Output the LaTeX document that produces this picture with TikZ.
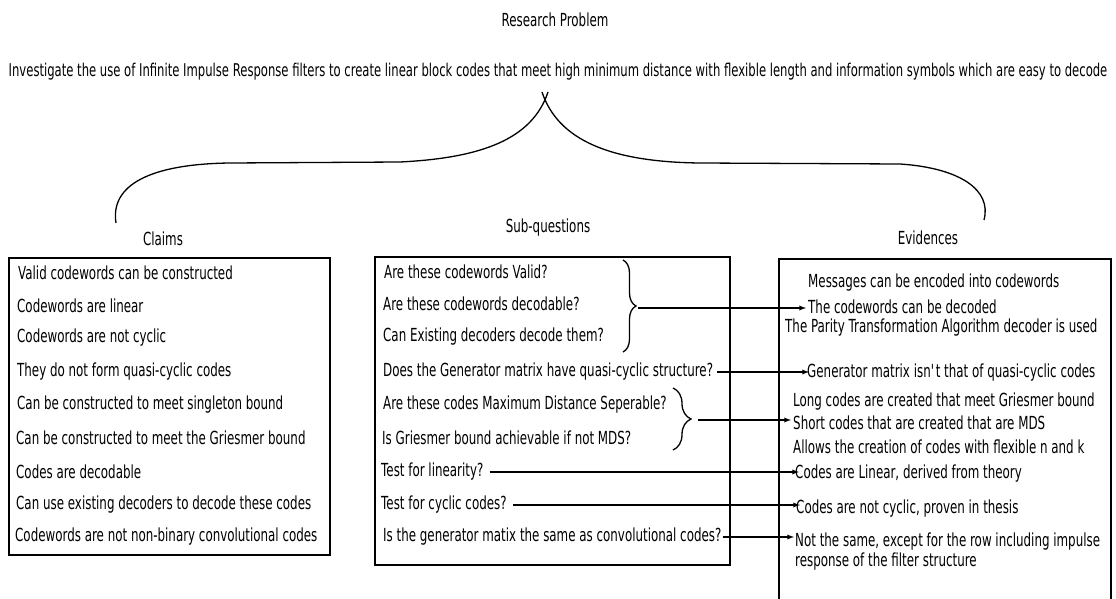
\documentclass[tikz,border=0pt]{standalone}
\usepackage{fontspec}
\setmainfont{DejaVu Sans}[FakeStretch=0.66]
\usetikzlibrary{decorations.pathreplacing}

\tikzset{
  txt/.style={anchor=west, inner sep=0pt, font=\fontsize{18}{20}\selectfont},
  head/.style={inner sep=0pt, font=\fontsize{18}{20}\selectfont},
  frame/.style={draw, line width=1.3pt},
  link/.style={-latex, line width=1.3pt, shorten >=2pt},
  smallbrace/.style={decorate, line width=1.3pt, decoration={brace, amplitude=#1}}
}

\begin{document}
\begin{tikzpicture}[x=1pt, y=-1pt]
	\useasboundingbox (0,0) rectangle (1116,599);

	% problem statement
	\node[head] (title) at (555,20) {Research Problem};
	\node[head, font=\fontsize{17.6}{20}\selectfont] (problem) at (558,72) {Investigate the use of Infinite Impulse Response filters to create linear block codes that meet high minimum distance with flexible length and information symbols which are easy to decode};

	% big brace
	\draw[line width=1.3pt] (116,223) .. controls (110,185) and (150,164) .. (230,163) -- (400,162)
		.. controls (480,158) and (532,140) .. (548,92);
	\draw[line width=1.3pt] (542,92) .. controls (558,140) and (610,162) .. (700,163) -- (900,164)
		.. controls (960,168) and (992,190) .. (984,220);

	% headings
	\node[head] (claims) at (163,239) {Claims};
	\node[head] (subq) at (548,228) {Sub-questions};
	\node[head] (evid) at (928,238) {Evidences};

	% boxes
	\draw[frame] (9,258) rectangle (330,555);
	\draw[frame] (375,257) rectangle (730,565);
	\draw[frame] (779,599) -- (779,259) -- (1111,259) -- (1111,599);

	% claims
	\node[txt] (c1) at (18,273) {Valid codewords can be constructed};
	\node[txt] (c2) at (17,306) {Codewords are linear};
	\node[txt] (c3) at (17,338) {Codewords are not cyclic};
	\node[txt] (c4) at (17,372) {They do not form quasi-cyclic codes};
	\node[txt] (c5) at (17,405) {Can be constructed to meet singleton bound};
	\node[txt] (c6) at (16,438) {Can be constructed to meet the Griesmer bound};
	\node[txt] (c7) at (16,472) {Codes are decodable};
	\node[txt] (c8) at (16,505) {Can use existing decoders to decode these codes};
	\node[txt] (c9) at (15,537) {Codewords are not non-binary convolutional codes};

	% sub-questions
	\node[txt] (q1) at (384,272) {Are these codewords Valid?};
	\node[txt] (q2) at (383,304) {Are these codewords decodable?};
	\node[txt] (q3) at (383,337) {Can Existing decoders decode them?};
	\node[txt] (q4) at (383,372) {Does the Generator matrix have quasi-cyclic structure?};
	\node[txt] (q5) at (383,405) {Are these codes Maximum Distance Seperable?};
	\node[txt] (q6) at (382,438) {Is Griesmer bound achievable if not MDS?};
	\node[txt] (q7) at (381,472) {Test for linearity?};
	\node[txt] (q8) at (381,505) {Test for cyclic codes?};
	\node[txt] (q9) at (383,537) {Is the generator matix the same as convolutional codes?};

	% evidences
	\node[txt] (ev1) at (808,283) {Messages can be encoded into codewords};
	\node[txt] (ev2) at (808,307) {The codewords can be decoded};
	\node[txt] (ev3) at (785,328) {The Parity Transformation Algorithm decoder is used};
	\node[txt] (ev4) at (807,373) {Generator matrix isn\textquotesingle t that of quasi-cyclic codes};
	\node[txt] (ev5) at (793,402) {Long codes are created that meet Griesmer bound};
	\node[txt] (ev6) at (793,423) {Short codes that are created that are MDS};
	\node[txt] (ev7) at (793,447) {Allows the creation of codes with flexible n and k};
	\node[txt] (ev8) at (795,474) {Codes are Linear, derived from theory};
	\node[txt] (ev9) at (796,509) {Codes are not cyclic, proven in thesis};
	\node[txt, anchor=north west, align=left] (ev10) at (795,533) {Not the same, except for the row including impulse\\response of the filter structure};

	% grouping braces
	\draw[smallbrace=13pt] (623,260) -- (623,352);
	\draw[smallbrace=18pt] (673,388) -- (673,450);
	\coordinate (tipA) at (638,308);
	\coordinate (tipB) at (698,420);

	% links
	\draw[link] (tipA) -- (tipA -| ev2.west);
	\draw[link] ([xshift=4pt]q4.east) -- ([xshift=4pt]q4.east -| ev4.west);
	\draw[link] (tipB) -- (tipB -| ev6.west);
	\draw[link] ([xshift=6pt]q7.east) -- ([xshift=6pt]q7.east -| ev8.west);
	\draw[link] ([xshift=6pt]q8.east) -- ([xshift=6pt]q8.east -| ev9.west);
	\draw[link] ([xshift=1pt]q9.east) -- ([xshift=1pt]q9.east -| ev10.west);
\end{tikzpicture}
\end{document}
